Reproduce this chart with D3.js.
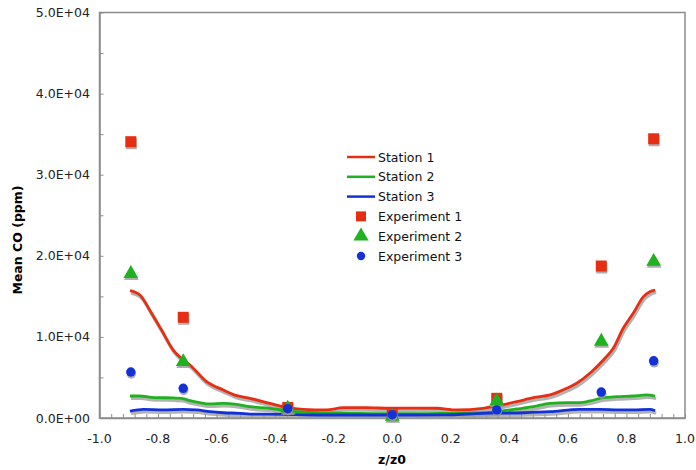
<!DOCTYPE html>
<html lang="en">
<head>
  <meta charset="UTF-8">
  <title>Mean CO along z/z0</title>
  <script src="https://d3js.org/d3.v7.min.js"></script>
  <style>
    body { margin: 0; background: #fff; }
    text { font-family: "DejaVu Sans", Verdana, sans-serif; }
  </style>
</head>
<body>
  <div id="chart"></div>
  <script>
    // Station curves
    var station1Z = [-0.896, -0.862, -0.822, -0.788, -0.748, -0.719, -0.691, -0.634, -0.577, -0.531, -0.486, -0.418, -0.361, -0.305, -0.224, -0.168, -0.087, -0.008, 0.084, 0.152, 0.220, 0.310, 0.357, 0.425, 0.482, 0.539, 0.596, 0.630, 0.675, 0.721, 0.755, 0.789, 0.823, 0.858, 0.880, 0.898];
    var station1 = [15700, 15170, 12910, 10850, 8380, 7300, 6540, 4480, 3450, 2750, 2430, 1810, 1320, 1070, 990, 1270, 1270, 1200, 1230, 1200, 990, 1200, 1480, 2010, 2500, 2840, 3660, 4280, 5510, 7150, 8590, 11060, 12910, 14960, 15570, 15780];

    var station2Z = [-0.896, -0.862, -0.822, -0.748, -0.719, -0.691, -0.657, -0.623, -0.577, -0.531, -0.486, -0.418, -0.361, -0.258, -0.144, -0.031, 0.084, 0.197, 0.310, 0.357, 0.425, 0.482, 0.539, 0.596, 0.641, 0.675, 0.721, 0.767, 0.823, 0.869, 0.898];
    var station2 = [2710, 2710, 2550, 2470, 2430, 2130, 1890, 1730, 1810, 1690, 1390, 1200, 900, 650, 580, 530, 530, 580, 650, 780, 1110, 1390, 1810, 1890, 1890, 2100, 2500, 2630, 2710, 2840, 2710];

    var station3Z = [-0.896, -0.850, -0.782, -0.714, -0.668, -0.623, -0.577, -0.520, -0.486, -0.372, -0.258, -0.100, 0.050, 0.200, 0.310, 0.357, 0.450, 0.539, 0.641, 0.710, 0.770, 0.823, 0.880, 0.898];
    var station3 = [860, 1070, 990, 1070, 990, 780, 650, 580, 490, 450, 370, 370, 370, 400, 580, 600, 650, 780, 1070, 1070, 1000, 990, 1070, 900];

    // Experimental points
    var expZ = [-0.893, -0.714, -0.357, 0, 0.357, 0.714, 0.893];
    var exp1 = [34070, 12420, 1300, 400, 2430, 18740, 34430];
    var exp2 = [17800, 6940, 1200, 200, 2100, 9450, 19300];
    var exp3 = [5670, 3660, 1150, 400, 1000, 3200, 7050];

    var xTicks = [-1.0, -0.8, -0.6, -0.4, -0.2, 0.0, 0.2, 0.4, 0.6, 0.8, 1.0];
    var yTicks = [0, 10000, 20000, 30000, 40000, 50000];

    var red = "#e62e12", green = "#1fb11f", blue = "#1232d8";

    var width = 696, height = 470;
    var svg = d3.select("#chart").append("svg")
      .attr("width", width)
      .attr("height", height);

    var x = d3.scaleLinear().domain([-1, 1]).range([99.5, 685]);
    var y = d3.scaleLinear().domain([0, 50000]).range([418, 12.5]);

    // plot frame
    svg.append("rect")
      .attr("x", x(-1)).attr("y", y(50000))
      .attr("width", x(1) - x(-1)).attr("height", y(0) - y(50000))
      .attr("fill", "none").attr("stroke", "#8c8c8c").attr("stroke-width", 1.5);

    // x axis: inside ticks every 0.04
    var xAxis = d3.axisBottom(x)
      .tickValues(d3.range(-1, 1.0001, 0.04))
      .tickSizeInner(-4).tickSizeOuter(0)
      .tickFormat("");
    var gx = svg.append("g").attr("transform", "translate(0," + y(0) + ")").call(xAxis);
    gx.select(".domain").attr("stroke", "#8c8c8c").attr("stroke-width", 1.5);
    gx.selectAll(".tick line").attr("stroke", "#8c8c8c");

    svg.append("g").selectAll("text")
      .data(xTicks).enter().append("text")
        .attr("x", function(d) { return x(d); })
        .attr("y", 443)
        .attr("text-anchor", "middle")
        .style("font-size", "12.5px")
        .attr("fill", "#222")
        .text(function(d) { return d3.format(".1f")(d).replace("−", "-"); });

    // y axis: inside ticks every 5000
    var yAxis = d3.axisLeft(y)
      .tickValues(d3.range(0, 50001, 5000))
      .tickSizeInner(-4).tickSizeOuter(0)
      .tickFormat("");
    var gy = svg.append("g").attr("transform", "translate(" + x(-1) + ",0)").call(yAxis);
    gy.select(".domain").attr("stroke", "#8c8c8c").attr("stroke-width", 1.5);
    gy.selectAll(".tick line").attr("stroke", "#8c8c8c");

    function sci(v) {
      if (v === 0) return "0.0E+00";
      var e = Math.floor(Math.log10(v));
      return (v / Math.pow(10, e)).toFixed(1) + "E+" + (e < 10 ? "0" : "") + e;
    }
    svg.append("g").selectAll("text")
      .data(yTicks).enter().append("text")
        .attr("x", 90)
        .attr("y", function(d) { return y(d) + 4.5; })
        .attr("text-anchor", "end")
        .style("font-size", "12.5px")
        .attr("fill", "#222")
        .text(sci);

    // axis titles
    svg.append("text")
      .attr("x", 392).attr("y", 464)
      .attr("text-anchor", "middle")
      .style("font-size", "12.5px").style("font-weight", "bold")
      .text("z/z0");
    svg.append("text")
      .attr("transform", "translate(22,240) rotate(-90)")
      .attr("text-anchor", "middle")
      .style("font-size", "12.5px").style("font-weight", "bold")
      .text("Mean CO (ppm)");

    // station lines with a soft grey shadow
    var line = d3.line()
      .x(function(d) { return x(d[0]); })
      .y(function(d) { return y(d[1]); })
      .curve(d3.curveMonotoneX);

    var stations = [
      {z: station1Z, v: station1, color: red},
      {z: station2Z, v: station2, color: green},
      {z: station3Z, v: station3, color: blue}
    ];
    stations.forEach(function(s) {
      var pts = d3.zip(s.z, s.v);
      svg.append("path").datum(pts)
        .attr("d", line)
        .attr("fill", "none")
        .attr("stroke", "#999").attr("stroke-opacity", 0.75)
        .attr("stroke-width", 3.2)
        .attr("transform", "translate(1,2.5)");
      svg.append("path").datum(pts)
        .attr("d", line)
        .attr("fill", "none")
        .attr("stroke", s.color)
        .attr("stroke-width", 2.8);
    });

    // markers
    var sq = d3.symbol().type(d3.symbolSquare).size(121);
    var tri = d3.symbol().type(d3.symbolTriangle).size(95);
    var circ = d3.symbol().type(d3.symbolCircle).size(70);

    var experiments = [
      {v: exp1, sym: sq, color: red},
      {v: exp2, sym: tri, color: green},
      {v: exp3, sym: circ, color: blue}
    ];
    experiments.forEach(function(e) {
      var pts = d3.zip(expZ, e.v);
      var g = svg.append("g");
      g.selectAll(".shadow").data(pts).enter().append("path")
        .attr("class", "shadow")
        .attr("d", e.sym)
        .attr("fill", "#999").attr("fill-opacity", 0.8)
        .attr("transform", function(d) { return "translate(" + (x(d[0]) + 0.5) + "," + (y(d[1]) + 2) + ")"; });
      g.selectAll(".mark").data(pts).enter().append("path")
        .attr("class", "mark")
        .attr("d", e.sym)
        .attr("fill", e.color)
        .attr("transform", function(d) { return "translate(" + x(d[0]) + "," + y(d[1]) + ")"; });
    });

    // legend
    var legendItems = [
      {label: "Station 1", color: red, kind: "line"},
      {label: "Station 2", color: green, kind: "line"},
      {label: "Station 3", color: blue, kind: "line"},
      {label: "Experiment 1", color: red, sym: sq},
      {label: "Experiment 2", color: green, sym: tri},
      {label: "Experiment 3", color: blue, sym: circ}
    ];
    var legend = svg.append("g").attr("transform", "translate(347,157)");
    legendItems.forEach(function(d, i) {
      var row = legend.append("g").attr("transform", "translate(0," + (i * 19.8) + ")");
      if (d.kind === "line") {
        row.append("line").attr("x1", 0).attr("x2", 28).attr("y1", 0).attr("y2", 0)
          .attr("stroke", d.color).attr("stroke-width", 2.5);
      } else {
        row.append("path").attr("d", d.sym.size(d.sym === circ ? 55 : 100))
          .attr("transform", "translate(14,0)")
          .attr("fill", d.color);
        d.sym.size(d.sym === sq ? 121 : d.sym === tri ? 95 : 70);
      }
      row.append("text").attr("x", 31).attr("y", 4.5)
        .style("font-size", "12.5px").attr("fill", "#111")
        .text(d.label);
    });
  </script>
</body>
</html>
